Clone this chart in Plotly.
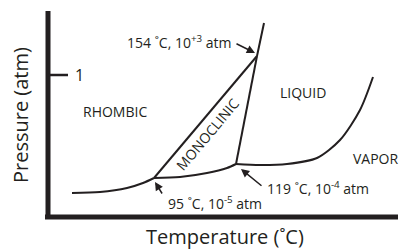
import plotly.graph_objects as go

# Schematic phase diagram of sulfur (arbitrary schematic units: temperature -> x, pressure -> y)
rhombic_vapor_T = [24, 52, 79, 95, 106]
rhombic_vapor_P = [24, 25, 29, 34, 39]
mono_vapor_T = [106, 132, 159, 179, 188]
mono_vapor_P = [39, 40, 44, 49, 53]
liquid_vapor_T = [188, 212, 239, 269, 292, 312, 325]
liquid_vapor_P = [53, 52, 53, 59, 77, 107, 140]
rhombic_mono_T = [106, 209]
rhombic_mono_P = [39, 161]
mono_liquid_T = [188, 209]
mono_liquid_P = [53, 161]
rhombic_liquid_T = [209, 216]
rhombic_liquid_P = [161, 194]

triple_points = [
    ("154 ˚C, 10<sup>+3</sup> atm", 209, 161),
    ("119 ˚C, 10<sup>-4</sup> atm", 188, 53),
    ("95 ˚C, 10<sup>-5</sup> atm", 106, 39),
]
tick_P = 142
tick_label = "1"

INK = "#231f20"
FONT = "Open Sans"

fig = go.Figure()
for T, P in [(rhombic_vapor_T, rhombic_vapor_P), (mono_vapor_T, mono_vapor_P),
             (liquid_vapor_T, liquid_vapor_P), (rhombic_mono_T, rhombic_mono_P),
             (mono_liquid_T, mono_liquid_P), (rhombic_liquid_T, rhombic_liquid_P)]:
    fig.add_trace(go.Scatter(x=T, y=P, mode="lines", line=dict(color=INK, width=2, shape="spline", smoothing=0.8),
                             hoverinfo="skip", showlegend=False))

# axes
fig.add_shape(type="line", x0=0, x1=0, y0=-2, y1=206, line=dict(color=INK, width=5))
fig.add_shape(type="line", x0=-3, x1=350, y0=0, y1=0, line=dict(color=INK, width=5))
fig.add_shape(type="line", x0=0, x1=20, y0=tick_P, y1=tick_P, line=dict(color=INK, width=2.5))

ann = []
ann.append(dict(x=25, y=tick_P, text=tick_label, xanchor="left", yanchor="middle", font=dict(size=16)))
# arrows
arrows = [((187, 174), (207, 164)), ((215, 30), (193, 48)), ((115, 22), (107, 35))]
for (tx, ty), (hx, hy) in arrows:
    ann.append(dict(x=hx, y=hy, ax=tx, ay=ty, axref="x", ayref="y", text="", showarrow=True,
                    arrowhead=2, arrowsize=1.1, arrowwidth=1.5, arrowcolor=INK))
ann.append(dict(x=186, y=175, text=triple_points[0][0], xanchor="right", yanchor="middle", font=dict(size=14)))
ann.append(dict(x=217, y=29, text=triple_points[1][0], xanchor="left", yanchor="middle", font=dict(size=14)))
ann.append(dict(x=118, y=14, text=triple_points[2][0], xanchor="left", yanchor="middle", font=dict(size=14)))
ann.append(dict(x=67, y=106, text="RHOMBIC", font=dict(size=14)))
ann.append(dict(x=255, y=125, text="LIQUID", font=dict(size=14)))
ann.append(dict(x=328, y=59, text="VAPOR", font=dict(size=14)))
ann.append(dict(x=159, y=83, text="MONOCLINIC", textangle=-50, font=dict(size=14)))
ann.append(dict(x=177, y=-19, text="Temperature (˚C)", font=dict(size=20)))
ann.append(dict(x=-28, y=102, text="Pressure (atm)", textangle=-90, font=dict(size=20)))
for a in ann:
    a.setdefault("showarrow", False)
    a.setdefault("font", {})
    a["font"] = dict(family=FONT, color=INK, **a["font"])
fig.update_layout(
    annotations=ann,
    width=406, height=250,
    margin=dict(l=0, r=0, t=0, b=0),
    paper_bgcolor="white", plot_bgcolor="white",
    xaxis=dict(range=[-48, 358], visible=False, fixedrange=True),
    yaxis=dict(range=[-33, 217], visible=False, fixedrange=True),
)
fig.write_html("out.html", config={"displayModeBar": False},
               post_script="document.body.style.margin='0';")
